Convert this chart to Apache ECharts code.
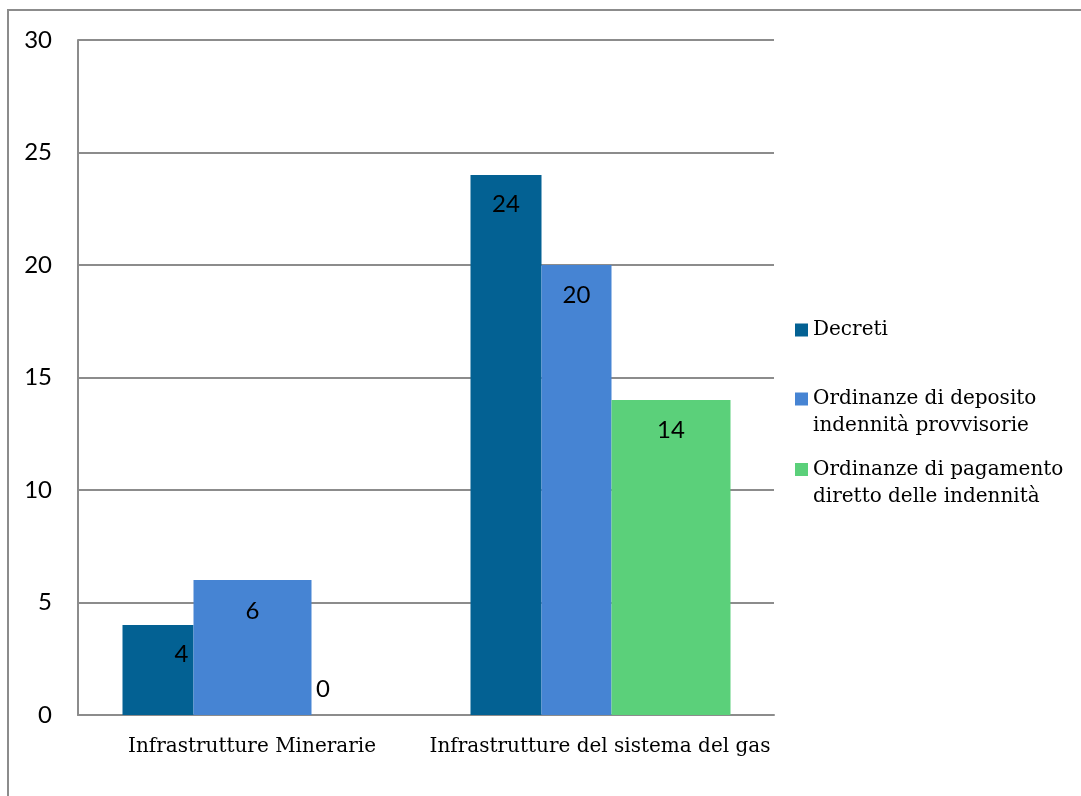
<!DOCTYPE html>
<html>
<head>
<meta charset="utf-8">
<title>Decreti e ordinanze</title>
<script src="https://cdn.jsdelivr.net/npm/echarts@6/dist/echarts.min.js"></script>
<style>
  html, body { margin: 0; padding: 0; background: #ffffff; }
  #chart { width: 1081px; height: 796px; }
</style>
</head>
<body>
<div id="chart"></div>
<script>
// Categories and series values
const categories = ['Infrastrutture Minerarie', 'Infrastrutture del sistema del gas'];
const seriesNames = [
  'Decreti',
  'Ordinanze di deposito\nindennità provvisorie',
  'Ordinanze di pagamento\ndiretto delle indennità'
];
const decreti = [4, 24];
const ordinanzeDeposito = [6, 20];
const ordinanzePagamento = [0, 14];
const yMin = 0;
const yMax = 30;
const yStep = 5;

// Presentation
const COLORS = ['#036193', '#4684D3', '#5BD07A'];
const GRID_GRAY = '#8c8c8c';
const SANS = 'Lato, "Open Sans", sans-serif';
const SERIF = '"DejaVu Serif", "Liberation Serif", serif';
const SERIF_SIZE = 20;

// Bar placement inside each category band: left offset and widths (px)
const BAR_LAYOUT = [
  { offset: 44.5, width: [71, 71] },
  { offset: 115.5, width: [118, 70] },
  { offset: 185.5, width: [119, 119] }
];
// Value label offsets: [dx from bar centre, dy from bar top]
const LABEL_OFFSETS = [
  [[23.5, 29], [0, 29]],
  [[0, 31], [0, 30]],
  [[0, -26], [0, 30]]
];

const valueSets = [decreti, ordinanzeDeposito, ordinanzePagamento];

function makeRenderer(si) {
  return function (params, api) {
    const ci = api.value(0);
    const v = api.value(1);
    const base = api.coord([ci, 0]);
    const top = api.coord([ci, v]);
    const band = api.size([1, 0])[0];
    const layout = BAR_LAYOUT[si];
    const x0 = base[0] - band / 2 + layout.offset;
    const w = layout.width[ci];
    const off = LABEL_OFFSETS[si][ci];
    return {
      type: 'group',
      children: [
        {
          type: 'rect',
          shape: { x: x0, y: top[1], width: w, height: base[1] - top[1] },
          style: { fill: COLORS[si] }
        },
        {
          type: 'text',
          x: x0 + w / 2 + off[0],
          y: top[1] + off[1],
          style: {
            text: String(v),
            fill: '#000000',
            font: '24px ' + SANS,
            align: 'center',
            verticalAlign: 'middle'
          },
          z2: 10
        }
      ]
    };
  };
}

const series = valueSets.map(function (vals, si) {
  return {
    name: seriesNames[si],
    type: 'custom',
    renderItem: makeRenderer(si),
    encode: { x: 0, y: 1 },
    itemStyle: { color: COLORS[si] },
    data: vals.map(function (v, ci) { return [ci, v]; }),
    animation: false
  };
});

// One legend block per series so each marker sits on the first line of its text
const LEGEND_LINE = 27;
const legendMarkerY = [330, 399, 469.5];
const legends = seriesNames.map(function (name, si) {
  const twoLine = name.indexOf('\n') >= 0;
  const blockHeight = (twoLine ? 3 : 1) * LEGEND_LINE;
  return {
    left: 795,
    top: legendMarkerY[si] - blockHeight / 2,
    orient: 'vertical',
    icon: 'rect',
    itemWidth: 13,
    itemHeight: 13,
    itemGap: 0,
    padding: 0,
    formatter: function (n) { return twoLine ? ' \n' + n : n; },
    textStyle: {
      fontFamily: SERIF,
      fontSize: SERIF_SIZE,
      color: '#000000',
      lineHeight: LEGEND_LINE
    },
    data: [{ name: name }]
  };
});

const chart = echarts.init(document.getElementById('chart'), null, { renderer: 'canvas' });
chart.setOption({
  animation: false,
  backgroundColor: '#ffffff',
  graphic: [{
    type: 'rect',
    shape: { x: 8, y: 10, width: 1200, height: 1000 },
    style: { fill: 'none', stroke: GRID_GRAY, lineWidth: 2 },
    silent: true
  }],
  legend: legends,
  grid: { left: 78, top: 40, right: 307, bottom: 81 },
  xAxis: {
    type: 'category',
    data: categories,
    axisLine: { show: true, lineStyle: { color: GRID_GRAY, width: 2 } },
    axisTick: { show: false },
    axisLabel: {
      interval: 0,
      margin: 22,
      fontFamily: SERIF,
      fontSize: SERIF_SIZE,
      color: '#000000'
    },
    splitLine: { show: false }
  },
  yAxis: {
    type: 'value',
    min: yMin,
    max: yMax,
    interval: yStep,
    axisLine: { show: true, lineStyle: { color: GRID_GRAY, width: 2 } },
    axisTick: { show: false },
    axisLabel: {
      margin: 26,
      fontFamily: SANS,
      fontSize: 24,
      color: '#000000'
    },
    splitLine: { show: true, lineStyle: { color: GRID_GRAY, width: 2 } }
  },
  series: series
});
</script>
</body>
</html>
